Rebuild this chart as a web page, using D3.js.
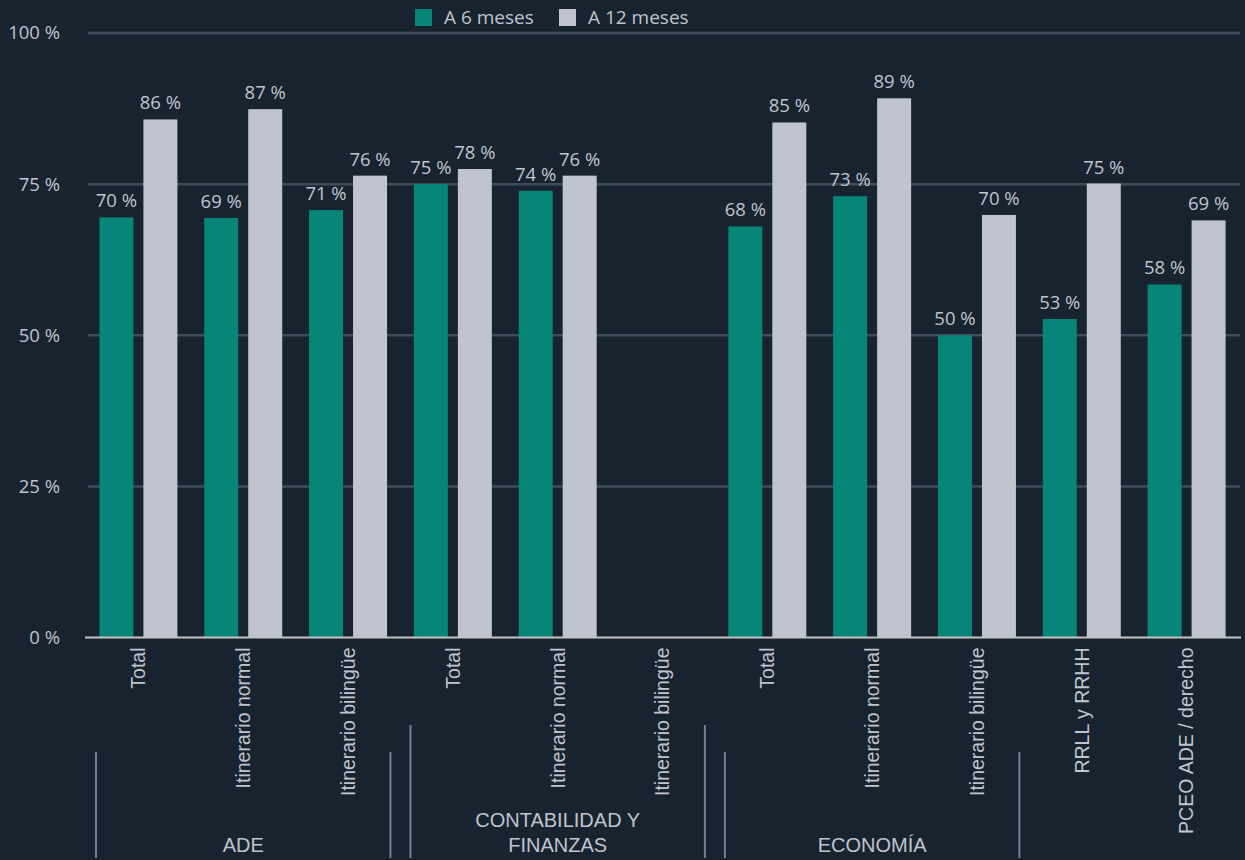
<!DOCTYPE html>
<html>
<head>
<meta charset="utf-8">
<script src="https://cdn.jsdelivr.net/npm/d3@7"></script>
<style>
	body { margin: 0; background: #17232f; }
	svg { display: block; }
</style>
</head>
<body>
<script>
//chart data
var categories = ["Total", "Itinerario normal", "Itinerario bilingüe",
	"Total", "Itinerario normal", "Itinerario bilingüe",
	"Total", "Itinerario normal", "Itinerario bilingüe",
	"RRLL y RRHH", "PCEO ADE / derecho"];
var seriesNames = ["A 6 meses", "A 12 meses"];
var sixMonths = [69.5, 69.4, 70.7, 75.0, 73.9, null, 68.0, 73.0, 50.0, 52.7, 58.4];
var twelveMonths = [85.7, 87.4, 76.4, 77.5, 76.4, null, 85.2, 89.2, 69.9, 75.1, 69.0];
var groups = [
	{label: ["ADE"], first: 0, last: 2},
	{label: ["CONTABILIDAD Y", "FINANZAS"], first: 3, last: 5},
	{label: ["ECONOMÍA"], first: 6, last: 8}
];
var yTicks = [0, 25, 50, 75, 100];

(function(){

	var width = 1245,
		height = 860;

	var colors = ["#068578", "#c0c4ce"],
		textColor = "#c0c4ce";

	var svg = d3.select("body")
		.append("svg")
		.attr("width", width)
		.attr("height", height);

	svg.append("rect")
		.attr("width", width)
		.attr("height", height)
		.attr("fill", "#17232f");

	//scales
	var x = d3.scaleBand()
		.domain(d3.range(categories.length))
		.range([86, 1239]);

	var bw = x.bandwidth();

	var x1 = d3.scaleBand()
		.domain([0, 1])
		.range([bw / 2 - 39, bw / 2 + 39])
		.paddingInner(10 / 44);

	var y = d3.scaleLinear()
		.domain([0, 100])
		.range([637.5, 33]);

	//gridlines
	svg.append("g")
		.selectAll("line")
		.data(yTicks.filter(function(d){ return d > 0; }))
		.enter()
		.append("line")
		.attr("x1", 88)
		.attr("x2", 1240)
		.attr("y1", function(d){ return y(d); })
		.attr("y2", function(d){ return y(d); })
		.attr("stroke", "#3e4d5c")
		.attr("stroke-width", 2.5);

	//y axis labels
	var yAxis = svg.append("g")
		.attr("transform", "translate(86,0)")
		.call(d3.axisLeft(y)
			.tickValues(yTicks)
			.tickSize(0)
			.tickPadding(26)
			.tickFormat(function(d){ return d + " %"; }));
	yAxis.select(".domain").remove();
	yAxis.selectAll("text")
		.attr("dy", "0.32em")
		.style("font-family", "'Open Sans', sans-serif")
		.style("font-size", "18.5px")
		.attr("fill", textColor);

	//bars
	var rows = categories.map(function(c, i){
		return {i: i, values: [sixMonths[i], twelveMonths[i]]};
	});

	var slot = svg.append("g")
		.selectAll("g")
		.data(rows)
		.enter()
		.append("g")
		.attr("transform", function(d){ return "translate(" + x(d.i) + ",0)"; });

	var cells = slot.selectAll("g")
		.data(function(d){
			return d.values.map(function(v, s){ return {s: s, v: v}; })
				.filter(function(e){ return e.v != null; });
		})
		.enter()
		.append("g");

	cells.append("rect")
		.attr("x", function(d){ return x1(d.s); })
		.attr("width", x1.bandwidth())
		.attr("y", function(d){ return y(d.v); })
		.attr("height", function(d){ return y(0) - y(d.v); })
		.attr("fill", function(d){ return colors[d.s]; });

	cells.append("text")
		.attr("x", function(d){ return x1(d.s) + x1.bandwidth() / 2; })
		.attr("y", function(d){ return y(d.v) - 10; })
		.attr("text-anchor", "middle")
		.style("font-family", "'Open Sans', sans-serif")
		.style("font-size", "18.5px")
		.attr("fill", textColor)
		.text(function(d){ return d3.format(".0f")(d.v) + " %"; });

	//baseline
	svg.append("line")
		.attr("x1", 85)
		.attr("x2", 1241)
		.attr("y1", y(0))
		.attr("y2", y(0))
		.attr("stroke", "#c4c4c4")
		.attr("stroke-width", 2);

	//category axis with rotated labels
	var xAxis = svg.append("g")
		.attr("transform", "translate(0," + y(0) + ")")
		.call(d3.axisBottom(x)
			.tickSize(0)
			.tickFormat(function(i){ return categories[i]; }));
	xAxis.select(".domain").remove();
	xAxis.selectAll("text")
		.attr("x", -10)
		.attr("y", 0)
		.attr("dy", "0.35em")
		.attr("transform", "rotate(-90)")
		.style("text-anchor", "end")
		.style("font-family", "'Liberation Sans', Arial, sans-serif")
		.style("font-size", "19.5px")
		.attr("fill", textColor);

	//group separators and labels
	var grp = svg.append("g")
		.selectAll("g")
		.data(groups)
		.enter()
		.append("g");

	grp.each(function(g, k){
		var left = x(g.first) + 10,
			right = x(g.last) + bw - 10,
			top = k === 1 ? 725 : 752;
		var sel = d3.select(this);
		[left, right].forEach(function(px){
			sel.append("line")
				.attr("x1", px).attr("x2", px)
				.attr("y1", top).attr("y2", 858)
				.attr("stroke", "#6b8299")
				.attr("stroke-width", 2);
		});
		g.label.forEach(function(line, j){
			sel.append("text")
				.attr("x", (x(g.first) + x(g.last) + bw) / 2)
				.attr("y", 852 - (g.label.length - 1 - j) * 25.5)
				.attr("text-anchor", "middle")
				.style("font-family", "'Liberation Sans', Arial, sans-serif")
				.style("font-size", "20px")
				.attr("fill", textColor)
				.text(line);
		});
	});

	//legend
	var legendX = [415, 559];
	var legend = svg.append("g")
		.selectAll("g")
		.data(seriesNames)
		.enter()
		.append("g")
		.attr("transform", function(d, i){ return "translate(" + legendX[i] + ",9)"; });

	legend.append("rect")
		.attr("width", 17)
		.attr("height", 17)
		.attr("fill", function(d, i){ return colors[i]; });

	legend.append("text")
		.attr("x", 29)
		.attr("y", 15)
		.style("font-family", "'Open Sans', sans-serif")
		.style("font-size", "19px")
		.attr("fill", textColor)
		.text(function(d){ return d; });

})();
</script>
</body>
</html>
